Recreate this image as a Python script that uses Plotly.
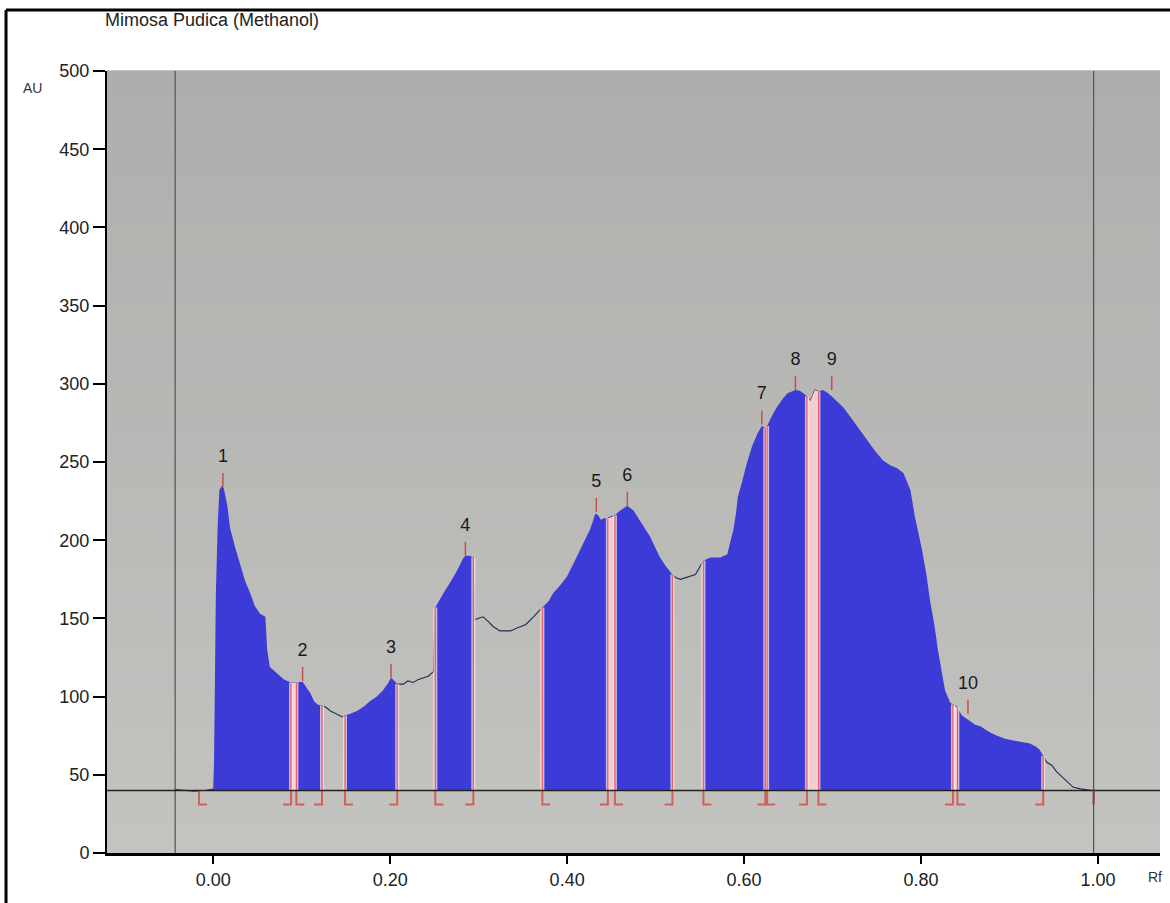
import numpy as np
import plotly.graph_objects as go

# Densitometric scan of the TLC track (Rf vs absorbance units)
rf = [-0.043, -0.032, -0.020, -0.016, -0.009, -0.003, 0.000, 0.001, 0.003, 0.005,
      0.007, 0.010, 0.012, 0.016, 0.019, 0.025, 0.031, 0.036, 0.042, 0.047,
      0.053, 0.059, 0.061, 0.064, 0.072, 0.080, 0.088, 0.094, 0.101, 0.105,
      0.110, 0.114, 0.118, 0.123, 0.128, 0.132, 0.139, 0.146, 0.149, 0.155,
      0.163, 0.171, 0.177, 0.185, 0.192, 0.197, 0.201, 0.205, 0.208, 0.215,
      0.220, 0.226, 0.232, 0.237, 0.243, 0.249, 0.251, 0.260, 0.266, 0.271,
      0.277, 0.282, 0.285, 0.290, 0.294, 0.295, 0.299, 0.305, 0.311, 0.316,
      0.324, 0.330, 0.336, 0.344, 0.353, 0.362, 0.367, 0.372, 0.379, 0.384,
      0.392, 0.400, 0.407, 0.415, 0.420, 0.426, 0.432, 0.435, 0.438, 0.442,
      0.446, 0.451, 0.454, 0.460, 0.468, 0.475, 0.482, 0.488, 0.494, 0.499,
      0.505, 0.512, 0.519, 0.523, 0.528, 0.533, 0.539, 0.545, 0.550, 0.554,
      0.562, 0.573, 0.581, 0.585, 0.588, 0.591, 0.593, 0.598, 0.603, 0.609,
      0.615, 0.620, 0.624, 0.626, 0.632, 0.637, 0.643, 0.649, 0.658, 0.663,
      0.667, 0.671, 0.675, 0.678, 0.680, 0.684, 0.689, 0.695, 0.701, 0.706,
      0.712, 0.720, 0.729, 0.739, 0.748, 0.757, 0.765, 0.773, 0.780, 0.788,
      0.793, 0.801, 0.806, 0.810, 0.815, 0.819, 0.824, 0.827, 0.833, 0.836,
      0.841, 0.846, 0.853, 0.861, 0.867, 0.878, 0.886, 0.895, 0.904, 0.914,
      0.923, 0.930, 0.934, 0.938, 0.942, 0.948, 0.953, 0.957, 0.964, 0.972,
      0.980, 0.986, 0.994]
au = [40.5, 40.0, 39.5, 40.0, 40.0, 40.5, 41.0, 60.0, 165.0, 208.0,
      232.0, 235.0, 233.0, 222.0, 208.0, 195.0, 183.0, 174.0, 166.0, 158.0,
      153.0, 151.0, 130.0, 119.0, 115.0, 111.0, 109.0, 109.0, 109.5, 106.0,
      102.0, 97.0, 95.0, 94.0, 93.0, 91.0, 89.0, 87.0, 88.0, 89.0,
      91.0, 94.0, 97.0, 100.0, 104.0, 108.0, 112.0, 110.0, 108.0, 108.0,
      110.0, 109.0, 111.0, 112.0, 113.0, 116.0, 157.0, 166.0, 171.0, 176.0,
      182.0, 188.0, 190.0, 190.0, 189.0, 149.0, 150.0, 151.0, 148.0, 145.0,
      142.0, 142.0, 142.0, 144.0, 146.0, 151.0, 154.0, 157.0, 161.0, 166.0,
      171.0, 177.0, 185.0, 194.0, 200.0, 207.0, 217.0, 216.0, 213.0, 214.0,
      214.0, 215.0, 216.0, 219.0, 222.0, 219.0, 213.0, 208.0, 202.0, 196.0,
      189.0, 183.0, 178.0, 176.0, 175.0, 176.0, 177.0, 178.0, 183.0, 187.0,
      189.0, 189.0, 191.0, 200.0, 207.0, 218.0, 228.0, 238.0, 249.0, 260.0,
      268.0, 273.0, 272.0, 273.0, 280.0, 285.0, 290.0, 294.0, 296.0, 295.5,
      294.0, 292.0, 289.0, 293.0, 296.0, 295.0, 296.0, 294.0, 291.0, 288.0,
      285.0, 279.0, 272.0, 264.0, 257.0, 251.0, 248.0, 246.0, 243.0, 232.0,
      215.0, 194.0, 178.0, 162.0, 146.0, 130.0, 114.0, 104.0, 96.0, 95.0,
      93.0, 88.0, 85.0, 82.0, 81.0, 77.0, 75.0, 73.0, 72.0, 71.0,
      70.0, 68.0, 66.0, 62.0, 58.0, 56.0, 52.0, 50.0, 46.0, 42.0,
      41.0, 40.5, 40.0]

# Integration windows of the ten detected peaks
peak_start = [-0.016, 0.094, 0.149, 0.251, 0.372, 0.454, 0.554, 0.626, 0.684, 0.841]
peak_end = [0.088, 0.123, 0.208, 0.294, 0.446, 0.519, 0.624, 0.671, 0.836, 0.938]
peak_ids = ["1", "2", "3", "4", "5", "6", "7", "8", "9", "10"]
apex_rf = [0.011, 0.101, 0.201, 0.285, 0.433, 0.468, 0.620, 0.658, 0.699, 0.853]
apex_au = [234, 110, 112, 190, 218, 222, 274, 296, 296, 89]

baseline_au = 40
track_start_rf = -0.043
track_end_rf = 0.995

x_tick_vals = [0.0, 0.2, 0.4, 0.6, 0.8, 1.0]
x_tick_text = ["0.00", "0.20", "0.40", "0.60", "0.80", "1.00"]
y_tick_vals = [0, 50, 100, 150, 200, 250, 300, 350, 400, 450, 500]

FONT = "Liberation Sans, Arial, sans-serif"
BLUE = "#3c3bd8"
BAND = "#f4cdd0"
EDGE = "#e2616b"
FOOT = "#d55f57"

rf_arr = np.array(rf)
au_arr = np.array(au)


def curve_at(x):
    return float(np.interp(x, rf_arr, au_arr))


def area_polygon(x0, x1):
    m = (rf_arr > x0) & (rf_arr < x1)
    xs = [x0, x0] + list(rf_arr[m]) + [x1, x1, x0]
    ys = [baseline_au, curve_at(x0)] + list(au_arr[m]) + [curve_at(x1), baseline_au, baseline_au]
    return xs, ys


fig = go.Figure()

# Trace line between integrated regions
inside = np.zeros(len(rf_arr), dtype=bool)
for s, e in zip(peak_start[1:], peak_end[1:]):
    inside |= (rf_arr > s) & (rf_arr < e)
inside |= (rf_arr > 0.0) & (rf_arr < peak_end[0])
line_y = [None if f else v for f, v in zip(inside, au)]
fig.add_trace(go.Scatter(x=rf, y=line_y, mode="lines", line=dict(color="#1d2a5c", width=1.1),
                         connectgaps=False, hoverinfo="skip", showlegend=False))

# Narrow gaps between neighbouring peaks
for i in range(len(peak_start) - 1):
    if peak_start[i + 1] - peak_end[i] < 0.015:
        xs, ys = area_polygon(peak_end[i], peak_start[i + 1])
        fig.add_trace(go.Scatter(x=xs, y=ys, mode="lines", fill="toself", fillcolor=BAND,
                                 line=dict(width=0), hoverinfo="skip", showlegend=False))

# Filled peak areas
for s, e in zip(peak_start, peak_end):
    xs, ys = area_polygon(s, e)
    fig.add_trace(go.Scatter(x=xs, y=ys, mode="lines", fill="toself", fillcolor=BLUE,
                             line=dict(width=0), hoverinfo="skip", showlegend=False))

# Boundary drop lines and feet
drop_x, drop_y, foot_x, foot_y = [], [], [], []
for bounds, direction in ((peak_start, 1), (peak_end, -1)):
    for b in bounds:
        drop_x += [b, b, None]
        drop_y += [baseline_au, curve_at(b), None]
        foot_x += [b, b, b + direction * 0.009, None]
        foot_y += [baseline_au, baseline_au - 9, baseline_au - 9, None]
fig.add_trace(go.Scatter(x=drop_x, y=drop_y, mode="lines", line=dict(color="rgba(255,228,228,0.75)", width=4),
                         hoverinfo="skip", showlegend=False))
fig.add_trace(go.Scatter(x=drop_x, y=drop_y, mode="lines", line=dict(color=EDGE, width=1.3),
                         hoverinfo="skip", showlegend=False))
fig.add_trace(go.Scatter(x=foot_x, y=foot_y, mode="lines", line=dict(color=FOOT, width=2),
                         hoverinfo="skip", showlegend=False))

# Baseline
fig.add_trace(go.Scatter(x=[-0.12, 1.07], y=[baseline_au, baseline_au], mode="lines",
                         line=dict(color="#222222", width=1.6), hoverinfo="skip", showlegend=False))

# Apex markers and peak numbers
tick_x, tick_y = [], []
for x, y in zip(apex_rf, apex_au):
    tick_x += [x, x, None]
    tick_y += [y, y + 9, None]
fig.add_trace(go.Scatter(x=tick_x, y=tick_y, mode="lines", line=dict(color="#c8504a", width=1.5),
                         hoverinfo="skip", showlegend=False))
fig.add_trace(go.Scatter(x=apex_rf, y=[y + 19 for y in apex_au], mode="text", text=peak_ids,
                         textposition="middle center", textfont=dict(family=FONT, size=18, color="#1a1a1a"),
                         hoverinfo="skip", showlegend=False))

shapes = []
# Soft vertical shading of the scan background
n_bands = 30
top_c = np.array([174, 174, 172])
bot_c = np.array([195, 196, 192])
for k in range(n_bands):
    t = (k + 0.5) / n_bands
    c = (top_c * (1 - t) + bot_c * t).round().astype(int)
    shapes.append(dict(type="rect", xref="paper", yref="paper", x0=0, x1=1,
                       y0=1 - (k + 1) / n_bands, y1=1 - k / n_bands + 0.001,
                       fillcolor=f"rgb({c[0]},{c[1]},{c[2]})", line=dict(width=0), layer="below"))
# Track start / end markers
for xv in (track_start_rf, track_end_rf):
    shapes.append(dict(type="line", xref="x", yref="y", x0=xv, x1=xv, y0=0, y1=500,
                       line=dict(color="#50505a", width=1.2), layer="below"))
shapes.append(dict(type="line", xref="x", yref="y", x0=track_end_rf, x1=track_end_rf,
                   y0=baseline_au, y1=baseline_au - 9, line=dict(color="#8a3a36", width=2)))
# Page frame
shapes.append(dict(type="line", xref="paper", yref="paper", x0=-0.0959, x1=1.02, y0=1.078, y1=1.078,
                   line=dict(color="black", width=3)))
shapes.append(dict(type="line", xref="paper", yref="paper", x0=-0.0959, x1=-0.0959, y0=1.078, y1=-0.08,
                   line=dict(color="black", width=3)))

annotations = [
    dict(text="Mimosa Pudica (Methanol)", xref="paper", yref="paper", x=-0.0038, y=1.0652,
         xanchor="left", yanchor="middle", showarrow=False, font=dict(family=FONT, size=18, color="#222222")),
    dict(text="AU", xref="paper", yref="paper", x=-0.0712, y=0.978, xanchor="center", yanchor="middle",
         showarrow=False, font=dict(family=FONT, size=14, color="#333333")),
    dict(text="Rf", xref="paper", yref="paper", x=0.995, y=-0.031, xanchor="center", yanchor="middle",
         showarrow=False, font=dict(family=FONT, size=14, color="#333333")),
]

fig.update_layout(
    width=1170, height=903, autosize=False,
    margin=dict(l=107, r=10, t=71, b=50),
    paper_bgcolor="white", plot_bgcolor="#b8b8b5",
    shapes=shapes, annotations=annotations, showlegend=False,
    xaxis=dict(range=[-0.12, 1.07], tickvals=x_tick_vals, ticktext=x_tick_text,
               showgrid=False, zeroline=False, showline=True, linecolor="black", linewidth=3,
               ticks="outside", ticklen=8, tickwidth=2, tickcolor="black",
               tickfont=dict(family=FONT, size=18, color="#222222")),
    yaxis=dict(range=[0, 500], tickvals=y_tick_vals,
               showgrid=False, zeroline=False, showline=True, linecolor="black", linewidth=2,
               ticks="outside", ticklen=12, tickwidth=1.5, tickcolor="black",
               tickfont=dict(family=FONT, size=18, color="#222222")),
)

fig.write_html("out.html")
